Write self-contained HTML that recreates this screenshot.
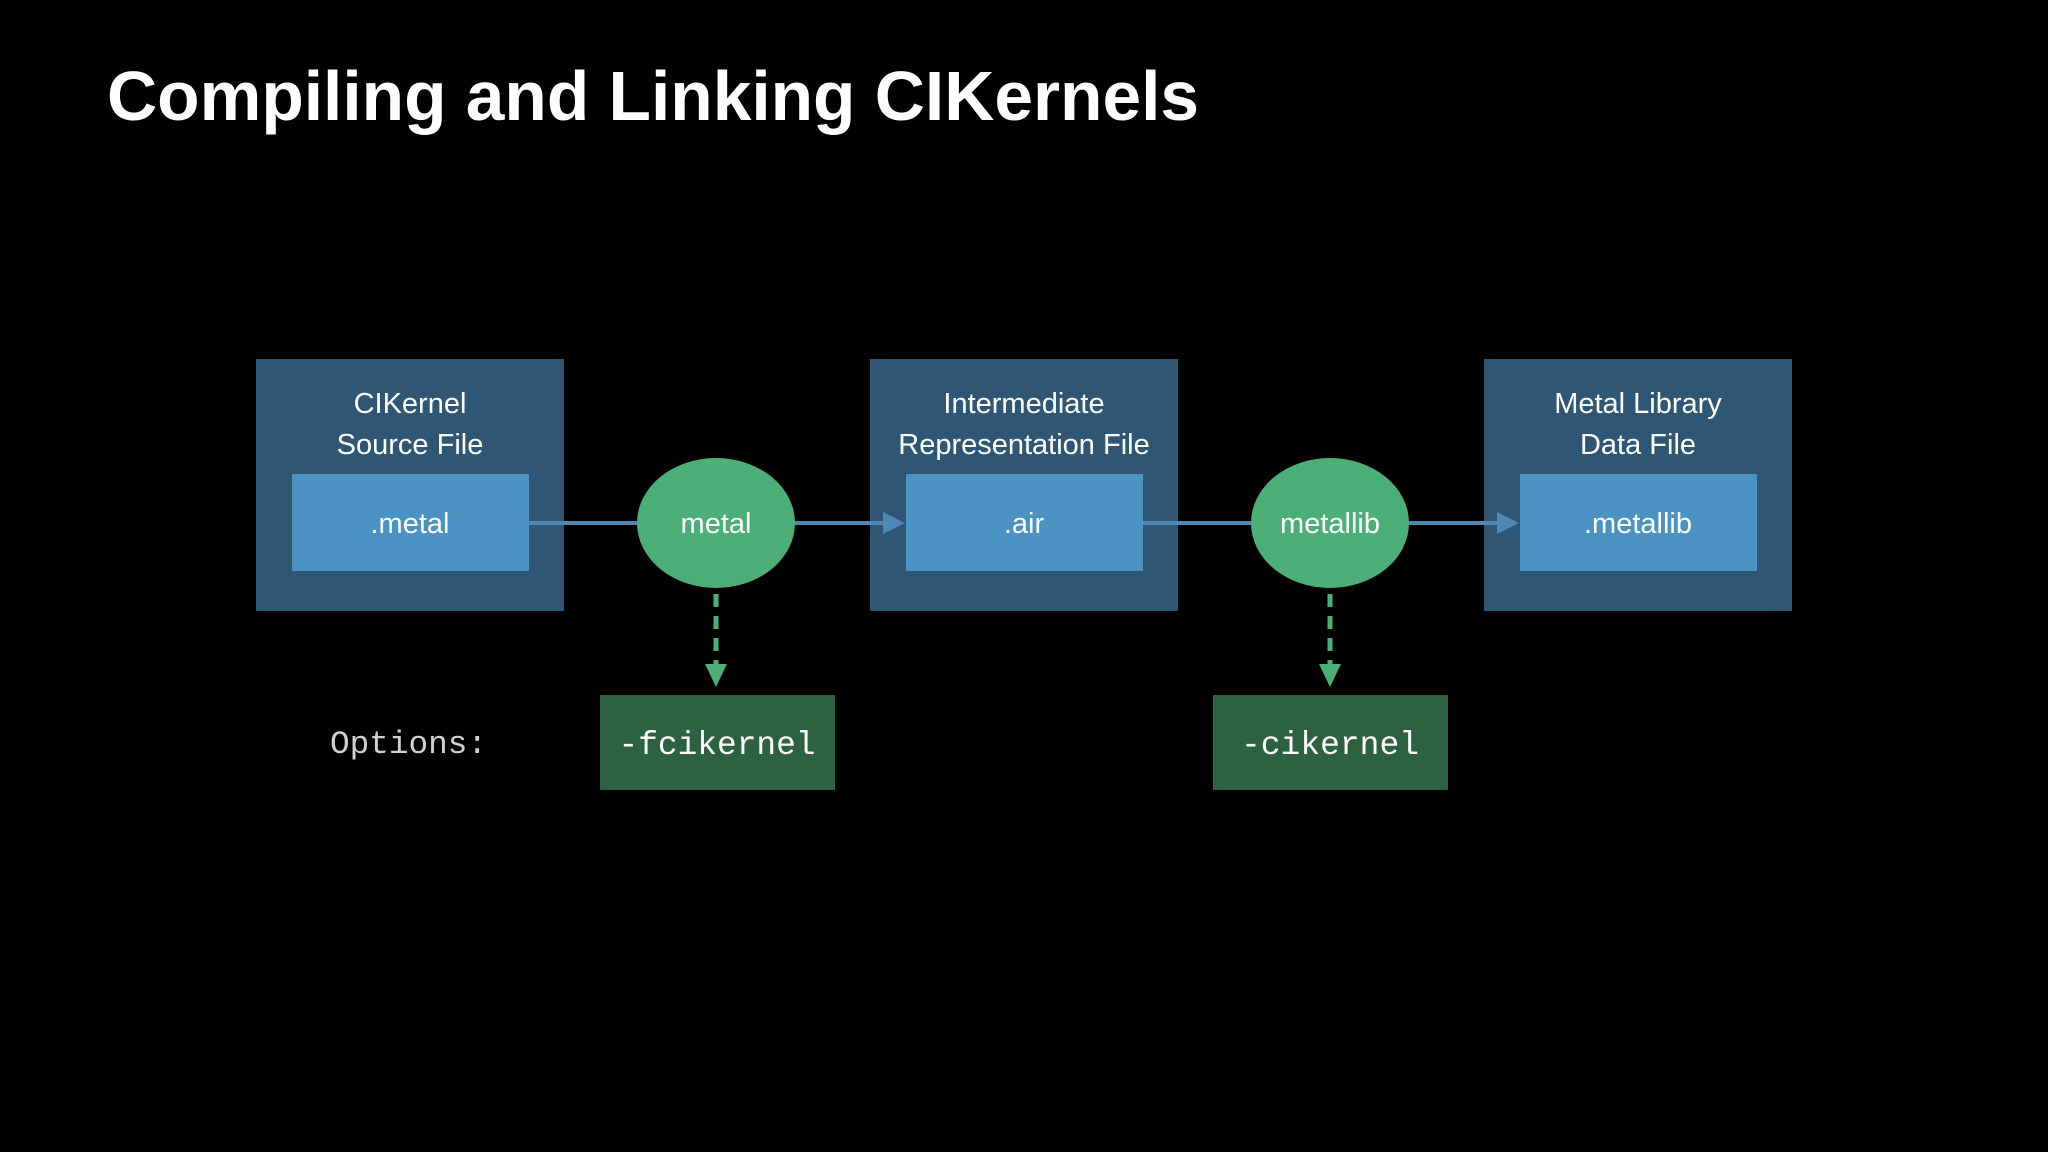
<!DOCTYPE html>
<html><head><meta charset="utf-8"><style>
html,body{margin:0;padding:0;background:#000;}
svg{display:block}
</style></head><body>
<svg width="2048" height="1152" viewBox="0 0 2048 1152" xmlns="http://www.w3.org/2000/svg">
<rect width="2048" height="1152" fill="#000"/>
<text x="107" y="120" font-family="Liberation Sans, sans-serif" font-weight="bold" font-size="70" fill="#fff" textLength="1092" lengthAdjust="spacingAndGlyphs">Compiling and Linking CIKernels</text>
<g fill="#2f5775">
<rect x="256" y="359" width="308" height="252"/>
<rect x="870" y="359" width="308" height="252"/>
<rect x="1484" y="359" width="308" height="252"/>
</g>
<g fill="#4b93c2">
<rect x="292" y="474" width="237" height="97"/>
<rect x="906" y="474" width="237" height="97"/>
<rect x="1520" y="474" width="237" height="97"/>
</g>
<g stroke="#4f87b5" stroke-width="4">
<line x1="529" y1="523" x2="640" y2="523"/>
<line x1="792" y1="523" x2="885" y2="523"/>
<line x1="1143" y1="523" x2="1254" y2="523"/>
<line x1="1406" y1="523" x2="1499" y2="523"/>
</g>
<g fill="#4f87b5">
<polygon points="883,512 905,523 883,534"/>
<polygon points="1497,512 1519,523 1497,534"/>
</g>
<g fill="#4daf78">
<ellipse cx="716" cy="523" rx="79" ry="65"/>
<ellipse cx="1330" cy="523" rx="79" ry="65"/>
</g>
<g stroke="#4daf78" stroke-width="5" stroke-dasharray="13,9">
<line x1="716" y1="594" x2="716" y2="668"/>
<line x1="1330" y1="594" x2="1330" y2="668"/>
</g>
<g fill="#4daf78">
<polygon points="705,664 727,664 716,687"/>
<polygon points="1319,664 1341,664 1330,687"/>
</g>
<g fill="#2d6240">
<rect x="600" y="695" width="235" height="95"/>
<rect x="1213" y="695" width="235" height="95"/>
</g>
<g font-family="Liberation Sans, sans-serif" font-size="29" fill="#fff" text-anchor="middle">
<text x="410" y="413">CIKernel</text>
<text x="410" y="454">Source File</text>
<text x="1024" y="413">Intermediate</text>
<text x="1024" y="454">Representation File</text>
<text x="1638" y="413">Metal Library</text>
<text x="1638" y="454">Data File</text>
<text x="410" y="533">.metal</text>
<text x="1024" y="533">.air</text>
<text x="1638" y="533">.metallib</text>
<text x="716" y="533">metal</text>
<text x="1330" y="533">metallib</text>
</g>
<g font-family="Liberation Mono, monospace" fill="#fff">
<text x="330" y="753" font-size="32" fill="#d0d0d0" textLength="157" lengthAdjust="spacingAndGlyphs">Options:</text>
<text x="717" y="754" font-size="33" text-anchor="middle" textLength="197" lengthAdjust="spacingAndGlyphs">-fcikernel</text>
<text x="1330" y="754" font-size="33" text-anchor="middle" textLength="178" lengthAdjust="spacingAndGlyphs">-cikernel</text>
</g>
</svg>
</body></html>
